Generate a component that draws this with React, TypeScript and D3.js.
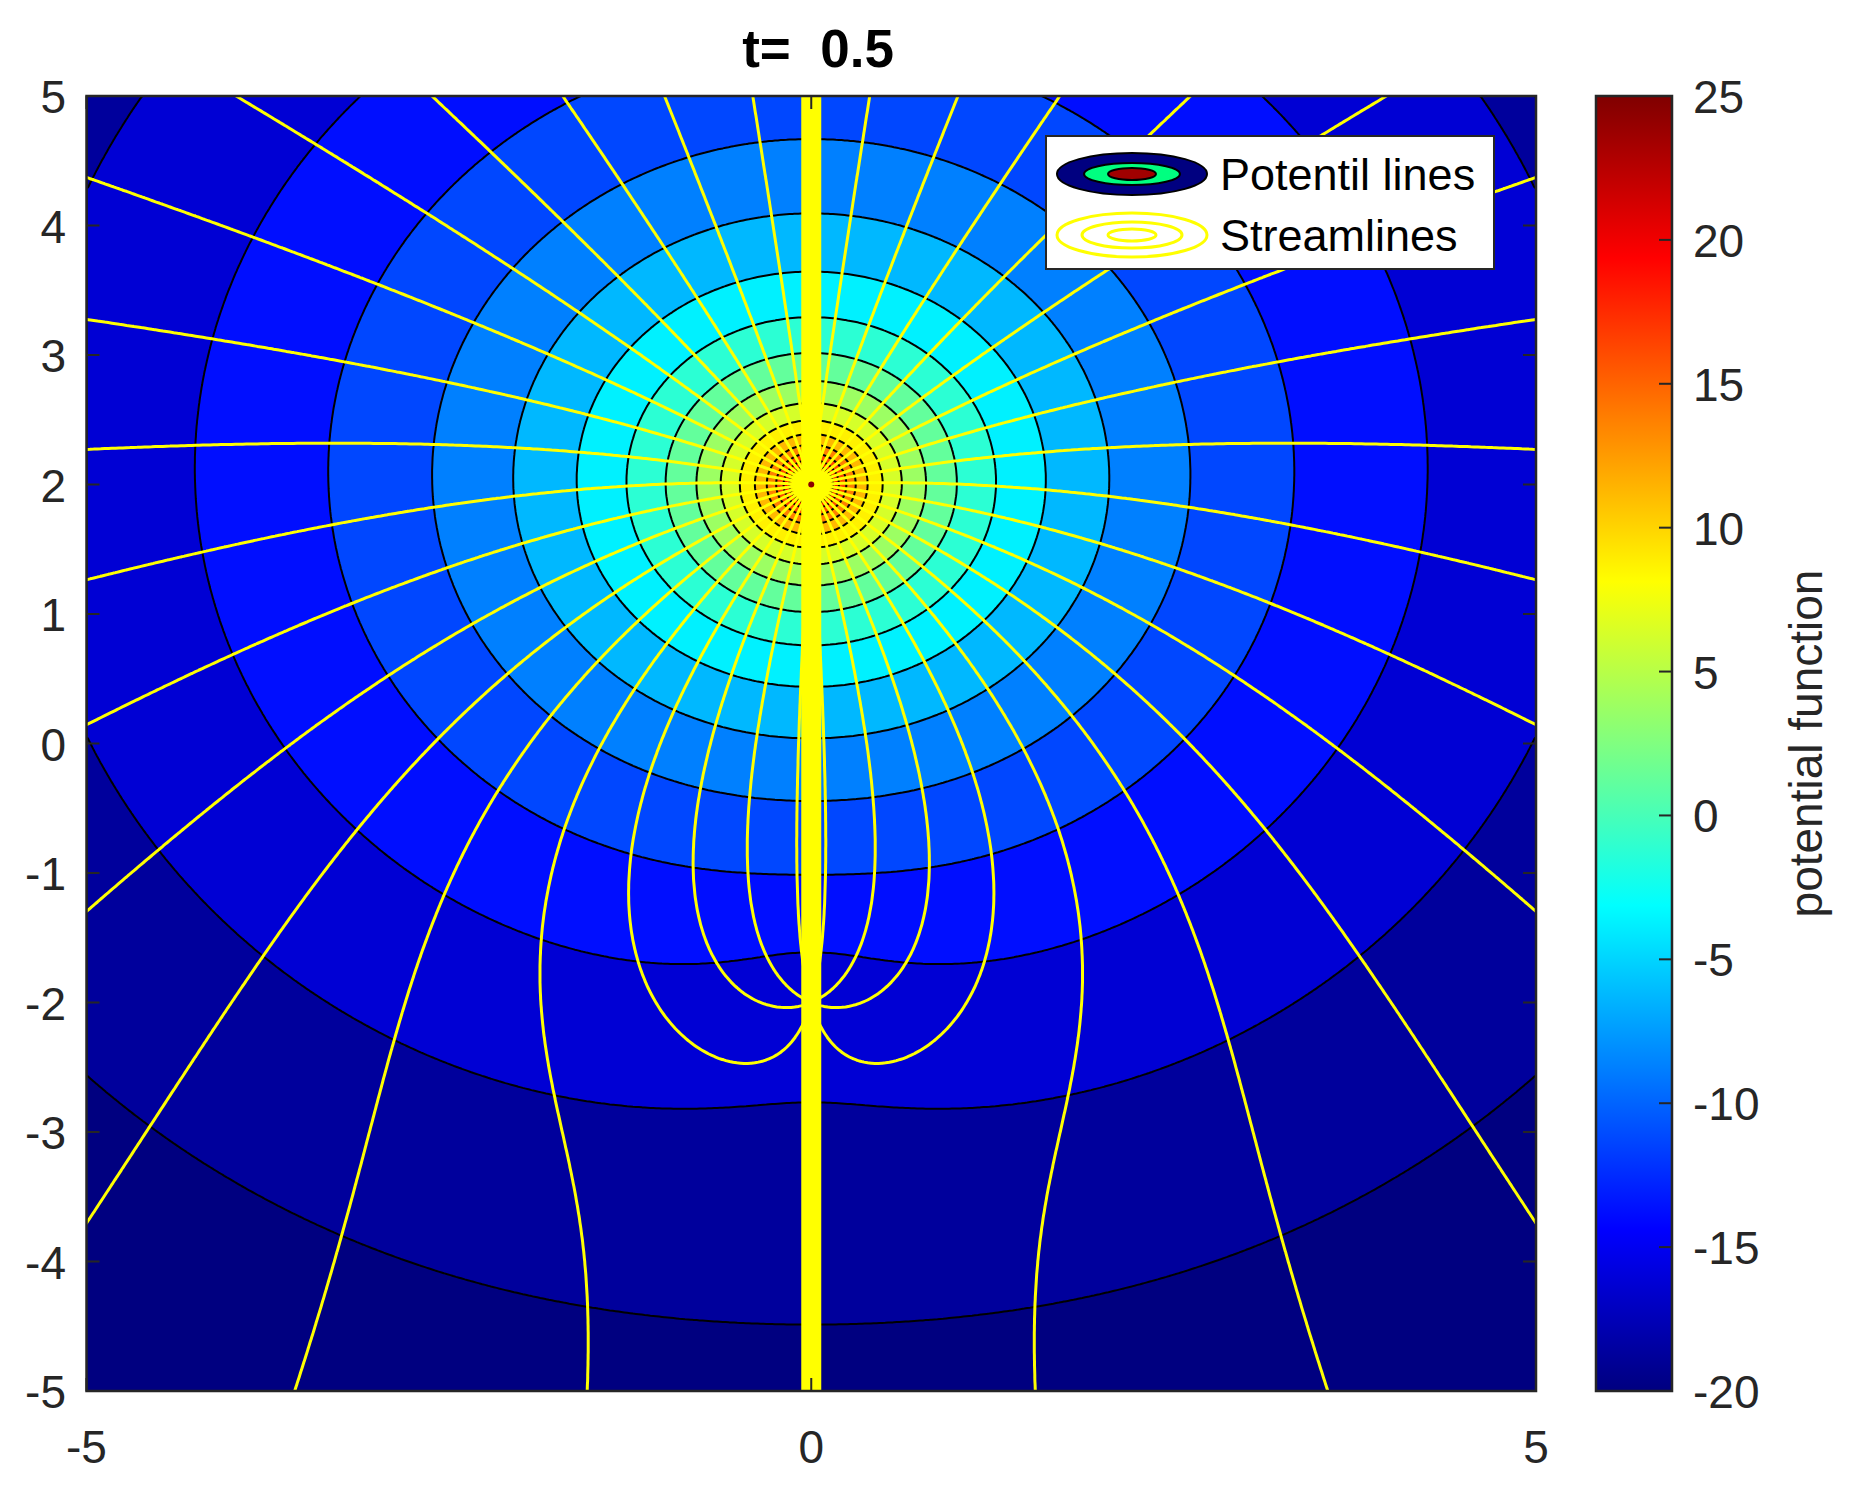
import React, { useMemo } from 'react';
import * as d3 from 'd3';

// ---------------- data ----------------
const titleText = 't=  0.5';
const xTicks = [-5, 0, 5];
const yTicks = [-5, -4, -3, -2, -1, 0, 1, 2, 3, 4, 5];
const colorbarTicks = [-20, -15, -10, -5, 0, 5, 10, 15, 20, 25];
const colorLimits = [-20, 25];
const potentialLevels = [-20, -17.5, -15, -12.5, -10, -7.5, -5, -2.5, 0, 2.5, 5, 7.5, 10, 12.5, 15, 17.5, 20, 22.5, 25];
const levelStep = 2.5;
const streamLevelsDeg = [-105, -95, -85, -75, -65, -55, -45, -35, -25, -15, -5, 5, 15, 25, 35, 45, 55, 65, 75, 85, 95, 105];
const sourceXY = [0, 2];
const sinkXY = [0, -2];
const sourceStrength = 10.55;
const sinkRatioStream = 0.2;
const sinkRatioPotential = 0.06;
const potentialOffset = -0.85;
const legendLabels = ['Potentil lines', 'Streamlines'];
const colorbarLabel = 'potential function';

// ---------------- layout ----------------
const W = 1850, H = 1490;
const PL = 86.5, PR = 1536, PT = 96, PB = 1391;
const CBL = 1596, CBR = 1672;
const FONT = '"Liberation Sans", Arial, Helvetica, sans-serif';
const AX = '#262626';

const xScale = d3.scaleLinear().domain([-5, 5]).range([PL, PR]);
const yScale = d3.scaleLinear().domain([-5, 5]).range([PB, PT]);
const cScale = d3.scaleLinear().domain(colorLimits).range([PB, PT]);
const tScale = d3.scaleLinear().domain(colorLimits).range([0, 1]).clamp(true);

function jetCont(t: number): string {
  const c = (v: number) => Math.max(0, Math.min(1, v));
  const r = c(Math.min(4 * t - 1.5, -4 * t + 4.5));
  const g = c(Math.min(4 * t - 0.5, -4 * t + 3.5));
  const b = c(Math.min(4 * t + 0.5, -4 * t + 2.5));
  return `rgb(${Math.round(r * 255)},${Math.round(g * 255)},${Math.round(b * 255)})`;
}
// band between level and level+step is painted with the colour of its middle value
const bandColor = (level: number) => jetCont(tScale(level + levelStep / 2));

function potential(x: number, y: number) {
  const r1 = Math.hypot(x - sourceXY[0], y - sourceXY[1]);
  const r2 = Math.hypot(x - sinkXY[0], y - sinkXY[1]);
  return potentialOffset - sourceStrength * Math.log(r1) + sourceStrength * sinkRatioPotential * Math.log(r2);
}
function stream(x: number, y: number) {
  const t1 = Math.atan((y - sourceXY[1]) / (x - sourceXY[0]));
  const t2 = Math.atan((y - sinkXY[1]) / (x - sinkXY[0]));
  return ((t1 - sinkRatioStream * t2) * 180) / Math.PI;
}

function buildFills() {
  const N = 500;
  const vals: number[] = new Array(N * N);
  for (let j = 0; j < N; j++) {
    const y = 5 - ((j + 0.5) * 10) / N;
    for (let i = 0; i < N; i++) {
      const x = -5 + ((i + 0.5) * 10) / N;
      vals[j * N + i] = potential(x, y);
    }
  }
  const cs = d3.contours().size([N, N]).thresholds(potentialLevels)(vals);
  return cs.map((c) => {
    let d = '';
    for (const poly of c.coordinates) {
      for (const ring of poly) {
        ring.forEach((p, k) => {
          const px = xScale(-5 + (p[0] * 10) / N);
          const py = yScale(5 - (p[1] * 10) / N);
          d += (k === 0 ? 'M' : 'L') + px.toFixed(1) + ',' + py.toFixed(1);
        });
        d += 'Z';
      }
    }
    return { level: c.value, d };
  });
}

function buildStreams() {
  const M = 400;
  const gx = (i: number) => -5 + (i * 10) / (M - 1);
  const gy = (j: number) => 5 - (j * 10) / (M - 1);
  const v = new Float64Array(M * M);
  for (let j = 0; j < M; j++) for (let i = 0; i < M; i++) v[j * M + i] = stream(gx(i), gy(j));
  const skip = M / 2 - 1;
  let d = '';
  for (const L of streamLevelsDeg) {
    for (let j = 0; j < M - 1; j++) {
      for (let i = 0; i < M - 1; i++) {
        if (i === skip) continue;
        const a = v[j * M + i], b = v[j * M + i + 1], c = v[(j + 1) * M + i + 1], e = v[(j + 1) * M + i];
        const code = (a > L ? 8 : 0) | (b > L ? 4 : 0) | (c > L ? 2 : 0) | (e > L ? 1 : 0);
        if (code === 0 || code === 15) continue;
        const top = () => [gx(i + (L - a) / (b - a)), gy(j)];
        const right = () => [gx(i + 1), gy(j + (L - b) / (c - b))];
        const bottom = () => [gx(i + (L - e) / (c - e)), gy(j + 1)];
        const left = () => [gx(i), gy(j + (L - a) / (e - a))];
        const segs: number[][][] = [];
        switch (code) {
          case 1: case 14: segs.push([left(), bottom()]); break;
          case 2: case 13: segs.push([bottom(), right()]); break;
          case 3: case 12: segs.push([left(), right()]); break;
          case 4: case 11: segs.push([top(), right()]); break;
          case 5: segs.push([left(), top()], [bottom(), right()]); break;
          case 6: case 9: segs.push([top(), bottom()]); break;
          case 7: case 8: segs.push([left(), top()]); break;
          case 10: segs.push([top(), right()], [left(), bottom()]); break;
        }
        for (const s of segs) {
          d += 'M' + xScale(s[0][0]).toFixed(1) + ',' + yScale(s[0][1]).toFixed(1) +
            'L' + xScale(s[1][0]).toFixed(1) + ',' + yScale(s[1][1]).toFixed(1);
        }
      }
    }
  }
  return d;
}

const fmt = (t: number) => (t < 0 ? '-' + Math.abs(t) : String(t));

export default function App() {
  const fills = useMemo(buildFills, []);
  const streams = useMemo(buildStreams, []);
  const gradStops = d3.range(0, 65).map((k) => ({ off: k / 64, col: jetCont(k / 64) }));
  const tickLen = 13;
  return (
    <svg width={W} height={H} style={{ display: 'block', position: 'absolute', left: 0, top: 0, background: '#fff' }} fontFamily={FONT}>
      <defs>
        <clipPath id="plotClip">
          <rect x={PL} y={PT} width={PR - PL} height={PB - PT} />
        </clipPath>
        <linearGradient id="cbGrad" x1="0" y1="1" x2="0" y2="0">
          {gradStops.map((s, k) => (
            <stop key={k} offset={s.off} stopColor={s.col} />
          ))}
        </linearGradient>
      </defs>
      <g clipPath="url(#plotClip)">
        <rect x={PL} y={PT} width={PR - PL} height={PB - PT} fill={jetCont(0)} />
        {fills.map((f, k) => (
          <path key={k} d={f.d} fill={bandColor(f.level)} stroke="#000" strokeWidth={2} strokeLinejoin="round" />
        ))}
        <path d={streams} fill="none" stroke="#ffff00" strokeWidth={3} strokeLinecap="round" />
        <line x1={xScale(0)} x2={xScale(0)} y1={PT} y2={PB} stroke="#ffff00" strokeWidth={20} />
        <circle cx={xScale(sourceXY[0])} cy={yScale(sourceXY[1])} r={3} fill="#8b0000" />
      </g>
      {/* axes frame */}
      <rect x={PL} y={PT} width={PR - PL} height={PB - PT} fill="none" stroke={AX} strokeWidth={2.5} />
      {xTicks.map((t) => (
        <g key={'x' + t}>
          <line x1={xScale(t)} x2={xScale(t)} y1={PB} y2={PB - tickLen} stroke={AX} strokeWidth={2} />
          <line x1={xScale(t)} x2={xScale(t)} y1={PT} y2={PT + tickLen} stroke={AX} strokeWidth={2} />
          <text x={xScale(t)} y={1463} textAnchor="middle" fontSize={46} fill={AX}>{fmt(t)}</text>
        </g>
      ))}
      {yTicks.map((t) => (
        <g key={'y' + t}>
          <line x1={PL} x2={PL + tickLen} y1={yScale(t)} y2={yScale(t)} stroke={AX} strokeWidth={2} />
          <line x1={PR} x2={PR - tickLen} y1={yScale(t)} y2={yScale(t)} stroke={AX} strokeWidth={2} />
          <text x={66} y={yScale(t) + 17} textAnchor="end" fontSize={46} fill={AX}>{fmt(t)}</text>
        </g>
      ))}
      <text x={818} y={67} textAnchor="middle" fontSize={53} fontWeight="bold" fill="#000" style={{ whiteSpace: 'pre' }} xmlSpace="preserve">{titleText}</text>

      {/* legend */}
      <g>
        <rect x={1046} y={136} width={448} height={133} fill="#fff" stroke={AX} strokeWidth={2} />
        <ellipse cx={1132} cy={174} rx={75} ry={21} fill={jetCont(0)} stroke="#000" strokeWidth={2} />
        <ellipse cx={1132} cy={174} rx={48} ry={11} fill="rgb(0,255,128)" stroke="#000" strokeWidth={2} />
        <ellipse cx={1132} cy={174} rx={24} ry={6} fill="rgb(160,0,0)" stroke="#000" strokeWidth={2} />
        <text x={1220} y={190} fontSize={45} fill="#000">{legendLabels[0]}</text>
        <ellipse cx={1132} cy={235} rx={75} ry={22} fill="none" stroke="#ffff00" strokeWidth={3} />
        <ellipse cx={1132} cy={235} rx={50} ry={13} fill="none" stroke="#ffff00" strokeWidth={3} />
        <ellipse cx={1132} cy={235} rx={24} ry={6} fill="none" stroke="#ffff00" strokeWidth={3} />
        <text x={1220} y={251} fontSize={45} fill="#000">{legendLabels[1]}</text>
      </g>

      {/* colorbar */}
      <rect x={CBL} y={PT} width={CBR - CBL} height={PB - PT} fill="url(#cbGrad)" stroke={AX} strokeWidth={2.5} />
      {colorbarTicks.map((t) => (
        <g key={'c' + t}>
          <line x1={CBR} x2={CBR - tickLen} y1={cScale(t)} y2={cScale(t)} stroke={AX} strokeWidth={2} />
          <text x={1693} y={cScale(t) + 17} fontSize={46} fill={AX}>{fmt(t)}</text>
        </g>
      ))}
      <text transform={`translate(1822,${(PT + PB) / 2}) rotate(-90)`} textAnchor="middle" fontSize={46} fill={AX}>{colorbarLabel}</text>
    </svg>
  );
}
